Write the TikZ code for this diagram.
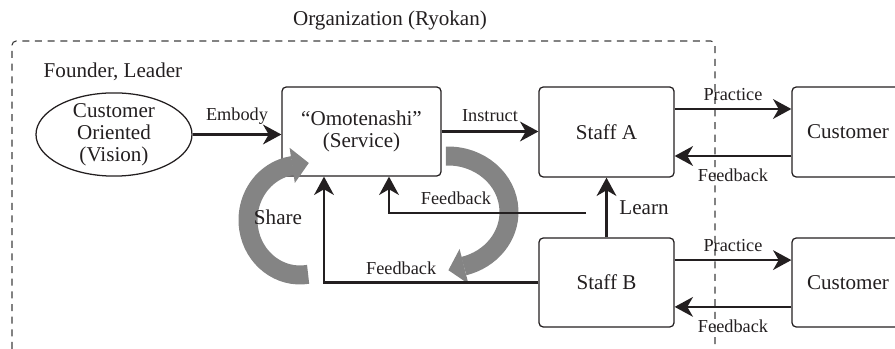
\documentclass[tikz,border=0pt]{standalone}
\usepackage{fontspec}
\setmainfont{Liberation Serif}
\usepackage{xcolor}
\definecolor{inkdark}{HTML}{231F20}
\definecolor{framegray}{HTML}{3F3F3F}
\definecolor{sharegray}{HTML}{848484}
\usepackage{tikz}
\usetikzlibrary{shapes.geometric,arrows.meta,positioning}

\begin{document}
\begin{tikzpicture}[
    box/.style={draw=inkdark, line width=0.9pt, rounded corners=3pt, align=center, font=\fontsize{15}{15.5}\selectfont, text=inkdark},
    lbl/.style={font=\fontsize{13}{14}\selectfont, text=inkdark, inner sep=2pt},
    flow/.style={-{Stealth[length=13pt, width=14pt, inset=4pt]}, inkdark, line width=1.8pt},
    bigband/.style={sharegray, line width=13.5pt}
  ]
  \useasboundingbox (0,0) rectangle (22.375,8.725);
  % organization frame
  \draw[framegray, line width=0.8pt, dash pattern=on 5pt off 4pt, rounded corners=3pt]
    (0.3,0) -- (0.3,7.7) -- (17.875,7.7) -- (17.875,0);
  \node[font=\fontsize{15}{16}\selectfont, text=inkdark] (org) at (9.75,8.225) {Organization (Ryokan)};
  \node[font=\fontsize{15}{16}\selectfont, text=inkdark] (founder) at (2.825,6.925) {Founder, Leader};

  \node[draw=inkdark, line width=0.9pt, ellipse, minimum width=3.9cm, minimum height=2.08cm, inner xsep=0pt, inner ysep=-3pt, align=center, font=\fontsize{15}{15.5}\selectfont, text=inkdark] (vision) at (2.85,5.3625) {Customer\\Oriented\\(Vision)};
  \node[box, minimum width=3.975cm, minimum height=2.225cm] (omo) at (9.0375,5.4375) {“Omotenashi”\\(Service)};
  \node[box, minimum width=3.375cm, minimum height=2.25cm] (staffA) at (15.1625,5.425) {Staff A};
  \node[box, minimum width=2.8cm, minimum height=2.25cm] (custA) at (21.2,5.425) {Customer};
  \node[box, minimum width=3.375cm, minimum height=2.225cm] (staffB) at (15.1625,1.6625) {Staff B};
  \node[box, minimum width=2.8cm, minimum height=2.225cm] (custB) at (21.2,1.6625) {Customer};

  % sharing loop, band + head
  \draw[bigband] (7.703,1.867) arc[start angle=-81, end angle=-262, x radius=1.3cm, y radius=1.375cm];
  \fill[sharegray] (7.24,5.03) -- (7.72,4.65) -- (7.37,4.15) -- cycle;
  \draw[bigband] (11.147,4.824) arc[start angle=92, end angle=-75, x radius=1.525cm, y radius=1.4cm];
  \fill[sharegray] (11.71,1.63) -- (11.21,1.97) -- (11.49,2.50) -- cycle;
  \node[font=\fontsize{15}{16}\selectfont, text=inkdark] (share) at (6.95,3.3) {Share};

  \draw[flow] (vision) -- (vision -| omo.west) node[lbl, midway, above=4pt] {Embody};
  \draw[flow] (omo.east) -- (omo.east -| staffA.west) node[lbl, midway, above=4pt] {Instruct};
  \draw[flow] ([yshift=0.575cm]staffA.east) -- ([yshift=0.575cm]custA.west) node[lbl, midway, above=3pt] {Practice};
  \draw[flow] ([yshift=-0.6cm]custA.west) -- ([yshift=-0.6cm]staffA.east) node[lbl, midway, below=6pt] {Feedback};
  \draw[flow] ([yshift=0.56cm]staffB.east) -- ([yshift=0.56cm]custB.west) node[lbl, midway, above=3pt] {Practice};
  \draw[flow] ([yshift=-0.61cm]custB.west) -- ([yshift=-0.61cm]staffB.east) node[lbl, midway, below=6pt] {Feedback};
  \draw[flow] (staffB) -- (staffA) node[midway, right=5pt, font=\fontsize{15}{16}\selectfont, text=inkdark] {Learn};
  \coordinate (fbA) at (14.65,3.4);
  \draw[flow] (fbA) -| ([xshift=0.6875cm]omo.south) node[lbl, pos=0.33, above=3pt] {Feedback};
  \draw[flow] (staffB.west) -| ([xshift=-0.9375cm]omo.south) node[lbl, pos=0.32, above=3pt] {Feedback};
\end{tikzpicture}
\end{document}
